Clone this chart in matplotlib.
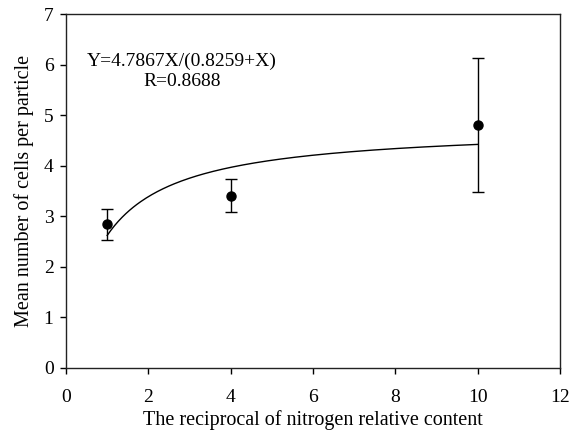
import numpy as np
import matplotlib
matplotlib.use("Agg")
import matplotlib.pyplot as plt

plt.rcParams['font.family'] = ['Liberation Serif', 'DejaVu Serif']

# Data
x_vals = [1, 4, 10]
y_means = [2.84, 3.41, 4.80]
y_lower = [2.53, 3.08, 3.48]
y_upper = [3.14, 3.73, 6.13]

# fitted model parameters (Y = a*X/(b+X))
fit_a = 4.7867
fit_b = 0.8259
fit_r = 0.8688

err_low = [m - l for m, l in zip(y_means, y_lower)]
err_high = [u - m for m, u in zip(y_means, y_upper)]

fig = plt.figure(figsize=(5.76, 4.30), dpi=100)
ax = fig.add_axes([0.1146, 0.1442, 0.8576, 0.8232])

xf = np.linspace(min(x_vals), max(x_vals), 200)
ax.plot(xf, fit_a * xf / (fit_b + xf), color='black', lw=1.0)

ax.errorbar(x_vals, y_means, yerr=[err_low, err_high], fmt='o', color='black',
            markersize=6.5, capsize=4, elinewidth=1.0, capthick=1.0)

ax.text(2.82, 6.06, "Y=%.4fX/(%.4f+X)" % (fit_a, fit_b), ha='center', va='center', fontsize=14)
ax.text(2.82, 5.66, "R=%.4f" % fit_r, ha='center', va='center', fontsize=14)

ax.set_xlim(0, 12)
ax.set_ylim(0, 7)
ax.set_xticks(range(0, 13, 2))
ax.set_yticks(range(0, 8))
ax.tick_params(direction='out', length=4, width=1, labelsize=14)
ax.tick_params(axis='x', pad=11)
ax.tick_params(axis='y', pad=5)
for s in ax.spines.values():
    s.set_linewidth(1.0)
    s.set_color('#222222')
ax.set_xlabel("The reciprocal of nitrogen relative content", fontsize=14.5, labelpad=3)
ax.set_ylabel("Mean number of cells per particle", fontsize=14.5, labelpad=7)

fig.savefig("out.png", dpi=100)
